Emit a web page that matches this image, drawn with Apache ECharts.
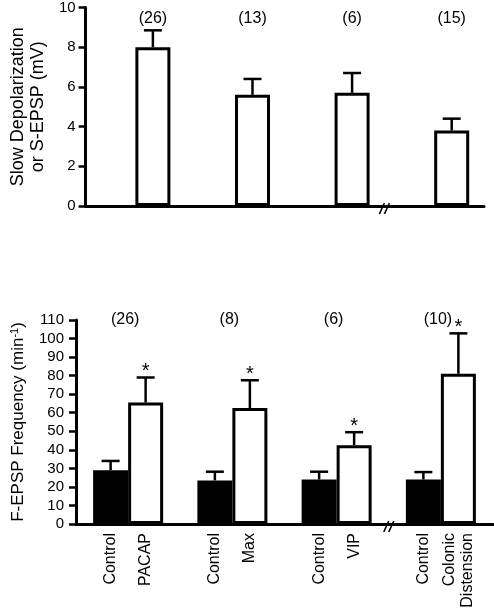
<!DOCTYPE html>
<html>
<head>
<meta charset="utf-8">
<script src="https://cdn.jsdelivr.net/npm/echarts@6/dist/echarts.min.js"></script>
<style>
html,body{margin:0;padding:0;background:#fff;}
#chart{width:494px;height:612px;}
</style>
</head>
<body>
<div id="chart"></div>
<script>
// ---- data ----
const groups = ['PACAP', 'Max', 'VIP', 'Colonic Distension'];
const topCounts = ['(26)', '(13)', '(6)', '(15)'];
const topMeans = [8.0, 5.6, 5.7, 3.8];
const topErr = [0.85, 0.8, 1.0, 0.6];
const topTicks = [0, 2, 4, 6, 8, 10];

const bottomCounts = ['(26)', '(8)', '(6)', '(10)'];
const controlMeans = [29, 23.5, 24, 24];
const controlErr = [5, 4.7, 4.2, 4];
const treatMeans = [65.5, 62.5, 42.5, 81];
const treatErr = [13.5, 15, 7, 21.8];
const treatSignificant = [true, true, true, true];
const controlLabels = ['Control', 'Control', 'Control', 'Control'];
const treatLabels = ['PACAP', 'Max', 'VIP', 'Colonic\nDistension'];
const bottomTicks = [0, 10, 20, 30, 40, 50, 60, 70, 80, 90, 100, 110];
const breakBefore = [3];

// ---- chart ----
const FONT = "'Liberation Sans', Arial, sans-serif";
const BAR_W = 35;
const HALF = BAR_W / 2;
const chart = echarts.init(document.getElementById('chart'), null, {renderer: 'canvas'});

function errItem(offset, withStar) {
  return function (params, api) {
    const i = api.value(0), m = api.value(1), e = api.value(2), sig = api.value(3);
    const b = api.coord([i, m]);
    const t = api.coord([i, m + e]);
    const x = b[0] + offset;
    const children = [
      {type: 'line', shape: {x1: x, y1: b[1], x2: x, y2: t[1]}, style: {stroke: '#000', lineWidth: 2.5}},
      {type: 'line', shape: {x1: x - 9, y1: t[1], x2: x + 9, y2: t[1]}, style: {stroke: '#000', lineWidth: 2.5}}
    ];
    if (withStar && sig) {
      children.push({type: 'text', x: x, y: t[1] + 4, style: {text: '*', fontSize: 20, fontFamily: FONT, fill: '#000', align: 'center', verticalAlign: 'bottom'}});
    }
    return {type: 'group', children: children};
  };
}

function countItem(labels, yVal, dx, dy) {
  return function (params, api) {
    const i = api.value(0);
    const p = api.coord([i, yVal]);
    return {type: 'text', x: p[0] + dx, y: p[1] + dy,
      style: {text: labels[i], fontSize: 16, fontFamily: FONT, fill: '#000', align: 'center', verticalAlign: 'middle'}};
  };
}

function breakItem(params, api) {
  const i = api.value(0);
  const p = api.coord([i, 0]);
  const band = api.size([1, 0])[0];
  const x = p[0] - band / 2;
  const y = p[1];
  return {type: 'group', children: [
    {type: 'line', shape: {x1: x - 5, y1: y + 8, x2: x, y2: y - 3}, style: {stroke: '#000', lineWidth: 1.6}},
    {type: 'line', shape: {x1: x, y1: y + 8, x2: x + 5, y2: y - 3}, style: {stroke: '#000', lineWidth: 1.6}}
  ]};
}

function xLabelItem(params, api) {
  const i = api.value(0);
  const p = api.coord([i, 0]);
  const mk = (txt, x) => ({type: 'text', x: x, y: p[1] + 9, rotation: Math.PI / 2,
    style: {text: txt, fontSize: 16, fontFamily: FONT, fill: '#000', align: 'right', verticalAlign: 'middle', lineHeight: 18}});
  return {type: 'group', children: [mk(controlLabels[i], p[0] - HALF), mk(treatLabels[i], p[0] + HALF)]};
}

const idx = groups.map((g, i) => i);

const yAxisCommon = {
  type: 'value',
  splitLine: {show: false},
  axisLine: {show: true, lineStyle: {color: '#000', width: 3}},
  axisTick: {show: true, inside: false, length: 7, lineStyle: {color: '#000', width: 2.5}},
  nameLocation: 'middle',
  nameRotate: 90,
  nameTextStyle: {fontSize: 17, fontFamily: FONT, color: '#000'}
};

chart.setOption({
  animation: false,
  backgroundColor: '#fff',
  grid: [
    {left: 74, right: 10, top: 6, height: 200},
    {left: 76, right: 1, top: 320, height: 204}
  ],
  xAxis: [
    {type: 'category', gridIndex: 0, data: groups, axisLine: {lineStyle: {color: '#000', width: 3}}, axisTick: {show: false}, axisLabel: {show: false}},
    {type: 'category', gridIndex: 1, data: groups, axisLine: {lineStyle: {color: '#000', width: 3}}, axisTick: {show: false}, axisLabel: {show: false}}
  ],
  yAxis: [
    Object.assign({}, yAxisCommon, {
      gridIndex: 0, min: topTicks[0], max: topTicks[topTicks.length - 1], interval: 2,
      name: 'Slow Depolarization\nor S-EPSP (mV)', nameGap: 37,
      nameTextStyle: {fontSize: 18, fontFamily: FONT, color: '#000', lineHeight: 20},
      axisLabel: {fontSize: 15, fontFamily: FONT, color: '#000', margin: 10}
    }),
    Object.assign({}, yAxisCommon, {
      gridIndex: 1, min: bottomTicks[0], max: bottomTicks[bottomTicks.length - 1], interval: 10,
      name: 'F-EPSP Frequency (min{sup|-1})', nameGap: 48,
      nameTextStyle: {fontSize: 17, fontFamily: FONT, color: '#000',
        rich: {sup: {fontSize: 11, fontFamily: FONT, color: '#000', verticalAlign: 'top', padding: [0, 0, 8, 0]}}},
      axisLabel: {fontSize: 15, fontFamily: FONT, color: '#000', margin: 12}
    })
  ],
  series: [
    // top chart: placeholder slot + open bars
    {type: 'bar', xAxisIndex: 0, yAxisIndex: 0, data: topMeans.map(() => null), barWidth: BAR_W, barGap: '0%', silent: true},
    {type: 'bar', xAxisIndex: 0, yAxisIndex: 0, data: topMeans, barWidth: BAR_W, barGap: '0%',
      itemStyle: {color: '#fff', borderColor: '#000', borderWidth: 3}},
    {type: 'custom', xAxisIndex: 0, yAxisIndex: 0, renderItem: errItem(HALF, false),
      data: idx.map(i => [i, topMeans[i], topErr[i], 0]), z: 5},
    {type: 'custom', xAxisIndex: 0, yAxisIndex: 0, renderItem: countItem(topCounts, topTicks[topTicks.length - 1], HALF, 11),
      data: idx.map(i => [i, 0]), z: 5},
    {type: 'custom', xAxisIndex: 0, yAxisIndex: 0, renderItem: breakItem, data: breakBefore.map(i => [i, 0]), z: 6},

    // bottom chart
    {type: 'bar', xAxisIndex: 1, yAxisIndex: 1, data: controlMeans, barWidth: BAR_W, barGap: '0%',
      itemStyle: {color: '#000', borderColor: '#000', borderWidth: 3}},
    {type: 'bar', xAxisIndex: 1, yAxisIndex: 1, data: treatMeans, barWidth: BAR_W, barGap: '0%',
      itemStyle: {color: '#fff', borderColor: '#000', borderWidth: 3}},
    {type: 'custom', xAxisIndex: 1, yAxisIndex: 1, renderItem: errItem(-HALF, false),
      data: idx.map(i => [i, controlMeans[i], controlErr[i], 0]), z: 5},
    {type: 'custom', xAxisIndex: 1, yAxisIndex: 1, renderItem: errItem(HALF, true),
      data: idx.map(i => [i, treatMeans[i], treatErr[i], treatSignificant[i] ? 1 : 0]), z: 5},
    {type: 'custom', xAxisIndex: 1, yAxisIndex: 1, renderItem: countItem(bottomCounts, bottomTicks[bottomTicks.length - 1], -3, 0),
      data: idx.map(i => [i, 0]), z: 5},
    {type: 'custom', xAxisIndex: 1, yAxisIndex: 1, renderItem: breakItem, data: breakBefore.map(i => [i, 0]), z: 6},
    {type: 'custom', xAxisIndex: 1, yAxisIndex: 1, renderItem: xLabelItem, data: idx.map(i => [i, 0]), z: 5}
  ]
});
</script>
</body>
</html>
